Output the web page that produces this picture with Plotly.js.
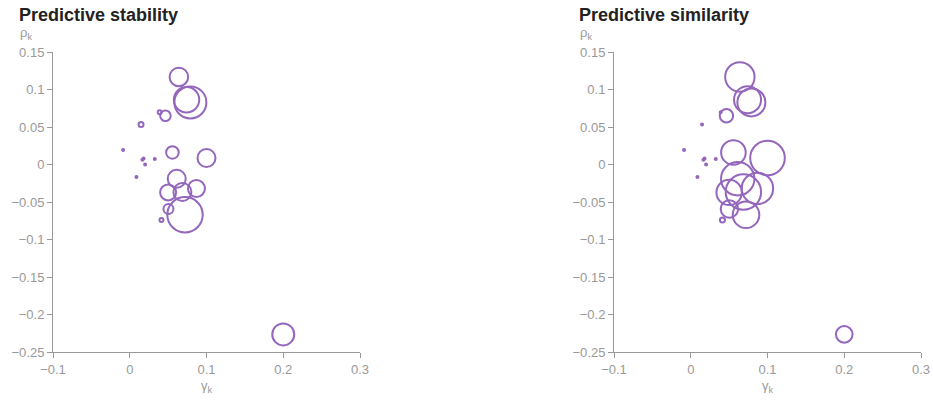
<!DOCTYPE html>
<html>
<head>
<meta charset="utf-8">
<script src="https://cdn.plot.ly/plotly-3.0.1.min.js"></script>
<style>html,body{margin:0;padding:0;background:#fff}#chart{width:933px;height:401px}</style>
</head>
<body>
<div id="chart"></div>
<script>
// γk (x) and ρk (y) for each component
const gamma = [0.064, 0.074, 0.079, 0.039, 0.0465, 0.0147, -0.0087, 0.0556, 0.100, 0.018, 0.0165, 0.020, 0.0326, 0.0087, 0.0612, 0.050, 0.0686, 0.0869, 0.0504, 0.072, 0.0413, 0.200];
const rho   = [0.1167, 0.0864, 0.0828, 0.0695, 0.065, 0.0535, 0.0193, 0.0161, 0.0087, 0.0081, 0.0064, 0.000, 0.0073, -0.0167, -0.019, -0.0372, -0.0367, -0.0319, -0.0593, -0.067, -0.074, -0.2265];
// bubble weights
const weightStability  = [18.6, 25.4, 32, 4, 10.6, 5, 2, 12.6, 18, 2, 2, 2, 2, 2, 18, 16, 18, 17, 10, 35.4, 4, 22];
const weightSimilarity = [29.4, 27, 28, 2, 13.4, 2, 2, 24.6, 34.6, 2, 2, 2, 2, 2, 33.4, 25.4, 35.4, 31.4, 17.4, 26.6, 5, 16.6];
const panelTitles = ["Predictive stability", "Predictive similarity"];

const purple = "#9467bd";
const grey = "#999";
const fontFam = "'Liberation Sans', Arial, Helvetica, sans-serif";

function trace(w, xa, ya) {
  return {
    type: "scatter", mode: "markers", x: gamma, y: rho, xaxis: xa, yaxis: ya,
    hoverinfo: "skip",
    marker: {symbol: "circle", size: w, sizemode: "diameter", sizeref: 1, opacity: 1,
             color: "rgba(0,0,0,0)", line: {color: purple, width: 2}}
  };
}

const axX = (dom) => ({
  domain: dom, range: [-0.1, 0.3], dtick: 0.1, tick0: 0, showgrid: false, zeroline: false,
  showline: true, linecolor: grey, linewidth: 1, ticks: "outside", ticklen: 5, tickcolor: grey,
  tickfont: {family: fontFam, size: 13, color: grey}, fixedrange: true
});
const axY = (anchor) => ({
  anchor: anchor, range: [-0.25, 0.15], dtick: 0.05, tick0: 0, showgrid: false, zeroline: false,
  showline: true, linecolor: grey, linewidth: 1, ticks: "outside", ticklen: 5, tickcolor: grey,
  tickfont: {family: fontFam, size: 13, color: grey}, fixedrange: true
});

const W = 933;
const py = (p) => (352 - p) / 300;
const ann = [];
[[16.5, 18, 206.5], [576.5, 578, 767.5]].forEach((pos, i) => {
  ann.push({text: "<b>" + panelTitles[i] + "</b>", xref: "paper", yref: "paper", x: pos[0] / W, y: py(15),
            xanchor: "left", yanchor: "middle", showarrow: false, font: {family: fontFam, size: 18, color: "#222"}});
  ann.push({text: "ρ<sub>k</sub>", xref: "paper", yref: "paper", x: pos[1] / W, y: py(33),
            xanchor: "left", yanchor: "middle", showarrow: false, font: {family: fontFam, size: 13, color: grey}});
  ann.push({text: "γ<sub>k</sub>", xref: "paper", yref: "paper", x: pos[2] / W, y: py(386),
            xanchor: "center", yanchor: "middle", showarrow: false, font: {family: fontFam, size: 13, color: grey}});
});

const layout = {
  width: 933, height: 401, margin: {l: 0, r: 0, t: 52, b: 49},
  paper_bgcolor: "#fff", plot_bgcolor: "#fff", showlegend: false,
  font: {family: fontFam},
  xaxis: axX([53 / W, 360 / W]), yaxis: axY("x"),
  xaxis2: axX([614 / W, 921 / W]), yaxis2: axY("x2"),
  annotations: ann
};

Plotly.newPlot("chart", [trace(weightStability, "x", "y"), trace(weightSimilarity, "x2", "y2")], layout,
  {displayModeBar: false, staticPlot: true});
</script>
</body>
</html>
